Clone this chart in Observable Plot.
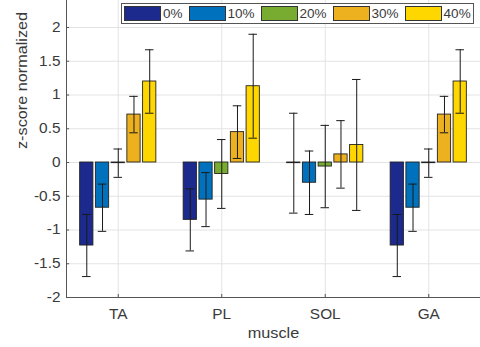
<!DOCTYPE html>
<html><head><meta charset="utf-8">
<script src="https://cdn.jsdelivr.net/npm/d3@7"></script>
<script src="https://cdn.jsdelivr.net/npm/@observablehq/plot@0.6"></script>
<style>
html,body{margin:0;padding:0;background:#fff;}
#wrap{position:relative;width:480px;height:347px;font-family:"Liberation Sans",Arial,sans-serif;color:#3a3a3a;}
#wrap svg{display:block;}
#legend{position:absolute;left:121px;top:3px;width:349px;height:19px;border:1px solid #555;background:#fff;display:flex;align-items:center;padding-left:2px;font-size:13.5px;color:#3a3a3a;}
.item{display:flex;align-items:center;margin-right:6px;}
.sw{width:35px;height:13px;border:1px solid #333;margin-right:2px;}
</style>
</head><body>
<div id="wrap"><div id="chart"></div><div id="legend"></div></div>
<script>
const muscles = ["TA", "PL", "SOL", "GA"];
const levels = ["0%", "10%", "20%", "30%", "40%"];
const colors = ["#1b2a8c", "#0072bd", "#77ac30", "#edb120", "#ffd700"];
const mean0  = [-1.23, -0.85, -0.01, -1.23];
const err0   = [0.46, 0.46, 0.74, 0.46];
const mean10 = [-0.67, -0.55, -0.30, -0.67];
const err10  = [0.35, 0.40, 0.47, 0.35];
const mean20 = [-0.01, -0.17, -0.06, -0.01];
const err20  = [0.21, 0.51, 0.61, 0.21];
const mean30 = [0.71, 0.45, 0.12, 0.71];
const err30  = [0.27, 0.39, 0.50, 0.27];
const mean40 = [1.20, 1.13, 0.26, 1.20];
const err40  = [0.47, 0.77, 0.97, 0.47];
const yTicks = [-2, -1.5, -1, -0.5, 0, 0.5, 1, 1.5, 2];

const means = [mean0, mean10, mean20, mean30, mean40];
const errs = [err0, err10, err20, err30, err40];
const step = 0.152, half = 0.064, cap = 0.041;
const rows = muscles.flatMap((m, i) => levels.map((l, j) => ({
  m, l, v: means[j][i], e: errs[j][i], x: i + 1 + (j - 2) * step
})));
const catPos = muscles.map((m, i) => i + 1);

const chart = Plot.plot({
  width: 480, height: 347,
  marginLeft: 66, marginRight: 0, marginTop: 0, marginBottom: 50,
  style: {fontFamily: '"Liberation Sans", Arial, sans-serif', fontSize: "14px", color: "#3a3a3a", background: "#fff"},
  x: {domain: [0.5, 4.5], ticks: catPos, tickFormat: d => muscles[d - 1], tickSize: 0, tickPadding: 12, label: null},
  y: {domain: [-2, 2.4], ticks: yTicks, tickFormat: d => String(d), tickSize: 0, tickPadding: 6, label: null},
  color: {domain: levels, range: colors},
  marks: [
    Plot.gridY(yTicks, {stroke: "#e3e3e3", strokeOpacity: 1}),
    Plot.gridX(catPos, {stroke: "#e3e3e3", strokeOpacity: 1}),
    Plot.rect(rows, {x1: d => d.x - half, x2: d => d.x + half, y1: 0, y2: "v", fill: "l", stroke: "#222", strokeWidth: 0.9}),
    Plot.ruleX(rows, {x: "x", y1: d => d.v - d.e, y2: d => d.v + d.e, stroke: "#1a1a1a", strokeWidth: 1}),
    Plot.ruleY(rows, {y: d => d.v + d.e, x1: d => d.x - cap, x2: d => d.x + cap, stroke: "#1a1a1a", strokeWidth: 1}),
    Plot.ruleY(rows, {y: d => d.v - d.e, x1: d => d.x - cap, x2: d => d.x + cap, stroke: "#1a1a1a", strokeWidth: 1}),
    Plot.ruleY(yTicks, {x1: 0.5, x2: 0.53, stroke: "#555"}),
    Plot.ruleX(catPos, {y1: -2, y2: -1.955, stroke: "#555"}),
    Plot.ruleX([0.5], {stroke: "#555"}),
    Plot.ruleY([-2], {stroke: "#555"}),
    Plot.text(["z-score normalized"], {frameAnchor: "left", text: d => d, rotate: -90, dx: -44, fontSize: 14, fill: "#3a3a3a"}),
    Plot.text(["muscle"], {frameAnchor: "bottom", text: d => d, dy: 40, fontSize: 14, fill: "#3a3a3a"})
  ]
});
document.getElementById("chart").appendChild(chart);

// widen glyphs slightly along the reading direction, as in the reference rendering
d3.select(chart).selectAll("text").each(function () {
  const t = this.getAttribute("transform") || "";
  const isLabel = this.textContent === "muscle" || this.textContent === "z-score normalized";
  this.setAttribute("transform", t + (isLabel ? " scale(1.16,1)" : " scale(1.1,1)"));
});

const legend = document.getElementById("legend");
levels.forEach((l, j) => {
  const it = document.createElement("div"); it.className = "item";
  const sw = document.createElement("div"); sw.className = "sw"; sw.style.background = colors[j];
  const tx = document.createElement("span"); tx.textContent = l;
  it.appendChild(sw); it.appendChild(tx); legend.appendChild(it);
});
</script>
</body></html>
